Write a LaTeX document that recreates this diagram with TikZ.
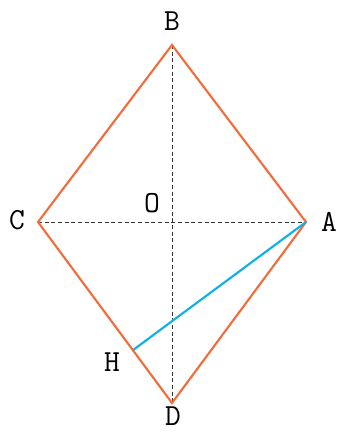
\documentclass[tikz,border=0pt]{standalone}
\usepackage{xcolor}
\usepackage{tikz}
\usetikzlibrary{arrows.meta,positioning,calc}
\definecolor{rhombcol}{HTML}{F26D3D}
\definecolor{altcol}{HTML}{0FB0E8}

\begin{document}
\begin{tikzpicture}[x=0.75pt,y=-0.75pt, >=Stealth,
  side/.style={draw=rhombcol,line width=1.6pt,line join=miter},
  diag/.style={draw=black!80,line width=0.7pt,dash pattern=on 3pt off 2pt},
  alt/.style={draw=altcol,line width=1.6pt},
  lbl/.style={font=\ttfamily\fontsize{23}{26}\selectfont,inner sep=0pt}]
\useasboundingbox (0,0) rectangle (338,432);
\coordinate (A) at (306,222);
\coordinate (B) at (172,45);
\coordinate (C) at (38,222);
\coordinate (D) at (172,403);
\coordinate (O) at (172,222);
\coordinate (H) at ($(C)!(A)!(D)$);
\draw[diag] (C)--(A);
\draw[diag] (B)--(D);
\draw[side] (A)--(B)--(C)--(D)--cycle;
\draw[alt] (A)--(H);
\node[lbl] (lA) at (329,222) {A};
\node[lbl] (lB) at (172,21) {B};
\node[lbl] (lC) at (17,220) {C};
\node[lbl] (lD) at (173,416) {D};
\node[lbl] (lH) at (112,362) {H};
\node[lbl] (lO) at (152,203) {O};
\end{tikzpicture}
\end{document}
